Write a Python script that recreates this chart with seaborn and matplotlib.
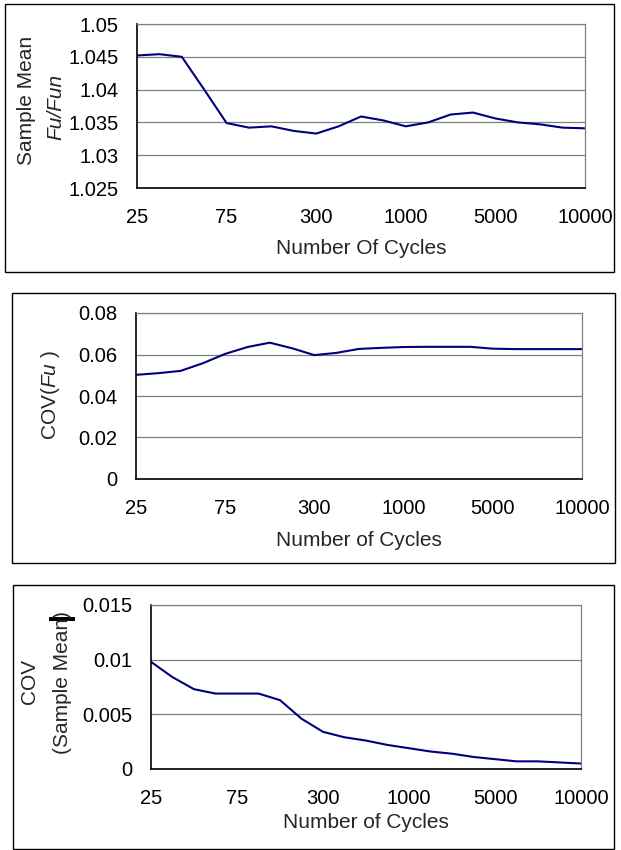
import numpy as np
import matplotlib
matplotlib.use('Agg')
import matplotlib.pyplot as plt
from matplotlib.patches import Rectangle
from matplotlib.ticker import FuncFormatter
import seaborn as sns

# x axis: 21 points, labels shown at every 4th point
tick_labels = ['25', '75', '300', '1000', '5000', '10000']

mean_fu = [1.0452, 1.0454, 1.0450, 1.0400, 1.0349, 1.0342, 1.0344, 1.0337, 1.0333,
           1.0344, 1.0359, 1.0353, 1.0344, 1.0350, 1.0362, 1.0365, 1.0356, 1.0350,
           1.0347, 1.0342, 1.0341]
cov_fu = [0.0502, 0.0510, 0.0521, 0.0558, 0.0603, 0.0636, 0.0657, 0.0630, 0.0597,
          0.0608, 0.0627, 0.0632, 0.0636, 0.0637, 0.0637, 0.0637, 0.0628, 0.0626,
          0.0626, 0.0626, 0.0626]
cov_mean = [0.0098, 0.0084, 0.0073, 0.0069, 0.0069, 0.0069, 0.0063, 0.0046, 0.0034,
            0.0029, 0.0026, 0.0022, 0.0019, 0.0016, 0.0014, 0.0011, 0.0009, 0.0007,
            0.0007, 0.0006, 0.0005]

sns.set_style('white')
plt.rcParams['font.family'] = ['Liberation Sans', 'DejaVu Sans']
plt.rcParams['mathtext.fontset'] = 'custom'
plt.rcParams['mathtext.it'] = 'Liberation Sans:italic'
plt.rcParams['mathtext.rm'] = 'Liberation Sans'

W, H = 621, 850
fig = plt.figure(figsize=(W / 100, H / 100), dpi=100)
FS_TICK = 14.5
FS_LAB = 15

def fx(px):
    return px / W

def fy(px):
    return 1 - px / H

# panels: axes box (left, top, right, bottom) in pixels, frame box, data, limits, ticks
panels = [
    dict(ax=(137, 24, 585, 188), box=(5, 4, 614, 272), y=mean_fu,
         ylim=(1.025, 1.05), yticks=[1.025, 1.03, 1.035, 1.04, 1.045, 1.05],
         xlabel='Number Of Cycles', xl_y=248),
    dict(ax=(136, 313, 582, 479), box=(12, 293, 615, 563), y=cov_fu,
         ylim=(0, 0.08), yticks=[0, 0.02, 0.04, 0.06, 0.08],
         xlabel='Number of Cycles', xl_y=540),
    dict(ax=(151, 605, 581, 769), box=(13, 585, 614, 849), y=cov_mean,
         ylim=(0, 0.015), yticks=[0, 0.005, 0.01, 0.015],
         xlabel='Number of Cycles', xl_y=823),
]

for p in panels:
    l, t, r, b = p['ax']
    ax = fig.add_axes([fx(l), fy(b), (r - l) / W, (b - t) / H])
    x = np.arange(len(p['y']))
    sns.lineplot(x=x, y=p['y'], ax=ax, color='#00007f', linewidth=1.5)
    ax.set_xlim(0, len(p['y']) - 1)
    ax.set_ylim(*p['ylim'])
    ax.set_yticks(p['yticks'])
    ax.yaxis.set_major_formatter(FuncFormatter(lambda v, pos: '{:g}'.format(round(v, 4))))
    ax.set_xticks(x[::4])
    ax.set_xticklabels(tick_labels)
    ax.grid(axis='y', color='#808080', linewidth=0.9)
    ax.set_axisbelow(True)
    for s in ['left', 'bottom']:
        ax.spines[s].set_color('black')
        ax.spines[s].set_linewidth(1.2)
    for s in ['top', 'right']:
        ax.spines[s].set_color('#808080')
        ax.spines[s].set_linewidth(0.9)
    ax.tick_params(axis='x', direction='inout', length=7, width=1, pad=11,
                   labelsize=FS_TICK, colors='black')
    ax.tick_params(axis='y', direction='out', length=4.5, width=1, pad=9,
                   labelsize=FS_TICK, colors='black')
    ax.set_xlabel(p['xlabel'], fontsize=FS_LAB)
    ax.xaxis.set_label_coords(0.5, -(p['xl_y'] - b) / (b - t))
    ax.xaxis.label.set_va('center')
    bl, bt, br, bb = p['box']
    fig.add_artist(Rectangle((fx(bl), fy(bb)), (br - bl) / W, (bb - bt) / H,
                             transform=fig.transFigure, fill=False,
                             edgecolor='black', linewidth=1.0))

# y axis titles
fig.text(fx(26), fy(100), 'Sample Mean', rotation=90, ha='center', va='center', fontsize=FS_LAB)
fig.text(fx(56), fy(107), 'Fu/Fun', rotation=90, ha='center', va='center',
         fontsize=FS_LAB, fontstyle='italic')
fig.text(fx(50), fy(395), r'COV($\mathit{Fu}$ )', rotation=90, ha='center', va='center',
         fontsize=FS_LAB)
fig.text(fx(30), fy(681), 'COV', rotation=90, ha='center', va='center', fontsize=FS_LAB)
fig.text(fx(62), fy(683), '(Sample Mean)', rotation=90, ha='center', va='center',
         fontsize=FS_LAB)
# small black mark over the last label
fig.add_artist(Rectangle((fx(49), fy(621)), 26 / W, 4 / H, transform=fig.transFigure,
                         facecolor='black', edgecolor='none'))

fig.savefig('out.png', dpi=100)
